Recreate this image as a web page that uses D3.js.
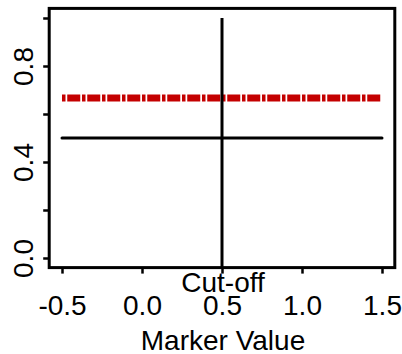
<!DOCTYPE html>
<html>
<head>
<meta charset="utf-8">
<script src="https://cdn.jsdelivr.net/npm/d3@7"></script>
<style>
  html, body { margin: 0; padding: 0; background: #fff; }
  svg { display: block; }
  text { font-family: "Liberation Sans", Arial, Helvetica, sans-serif; fill: #000; }
</style>
</head>
<body>
<svg id="chart" width="402" height="354"></svg>
<script>
// Axis ticks and labels
const xTicks = [-0.5, 0.0, 0.5, 1.0, 1.5];
const xTickLabels = ["-0.5", "0.0", "0.5", "1.0", "1.5"];
const yTicks = [0.0, 0.2, 0.4, 0.6, 0.8, 1.0];
const yTickLabels = ["0.0", "", "0.4", "", "0.8", ""];

// Data ranges
const xRange = [-0.5, 1.5];
const yRange = [0, 1];

// Reference lines
const cutoffValue = 0.5;          // vertical line, labelled "Cut-off"
const cutoffSpan = [-0.04, 1.0];  // vertical extent of the cut-off line
const chanceLevel = 0.5;          // horizontal black line
const seriesLevel = 2 / 3;        // red dash-dot line
const seriesSpan = [-0.5, 1.5];

const xLabel = "Marker Value";
const cutoffLabel = "Cut-off";

// Plot region (R-style 4% axis extension)
const plot = { left: 49.2, right: 394.8, top: 8.4, bottom: 267.6 };
const pad = 0.04;
const xd = xRange[1] - xRange[0], yd = yRange[1] - yRange[0];

const x = d3.scaleLinear()
  .domain([xRange[0] - pad * xd, xRange[1] + pad * xd])
  .range([plot.left, plot.right]);
const y = d3.scaleLinear()
  .domain([yRange[0] - pad * yd, yRange[1] + pad * yd])
  .range([plot.bottom, plot.top]);

const svg = d3.select("#chart");
const FS = 28;

// Red dash-dot series line
svg.append("line")
  .attr("x1", x(seriesSpan[0])).attr("x2", x(seriesSpan[1]))
  .attr("y1", y(seriesLevel)).attr("y2", y(seriesLevel))
  .attr("stroke", "#c40000")
  .attr("stroke-width", 7)
  .attr("stroke-dasharray", "3.5,1.75,13,1.75")
  .attr("stroke-linecap", "butt");

// Horizontal reference line
svg.append("line")
  .attr("x1", x(xRange[0])).attr("x2", x(xRange[1]))
  .attr("y1", y(chanceLevel)).attr("y2", y(chanceLevel))
  .attr("stroke", "#000").attr("stroke-width", 3)
  .attr("stroke-linecap", "round");

// Cut-off line
svg.append("line")
  .attr("x1", x(cutoffValue)).attr("x2", x(cutoffValue))
  .attr("y1", y(cutoffSpan[1])).attr("y2", y(cutoffSpan[0]))
  .attr("stroke", "#000").attr("stroke-width", 3);

// Box
svg.append("rect")
  .attr("x", plot.left).attr("y", plot.top)
  .attr("width", plot.right - plot.left)
  .attr("height", plot.bottom - plot.top)
  .attr("fill", "none").attr("stroke", "#000").attr("stroke-width", 3);

// X axis
const xAxis = svg.append("g")
  .attr("transform", `translate(0,${plot.bottom})`)
  .call(d3.axisBottom(x).tickValues(xTicks).tickSize(6).tickSizeOuter(0)
    .tickFormat((d, i) => xTickLabels[i]));
xAxis.select(".domain").remove();
xAxis.selectAll(".tick line").attr("stroke", "#000").attr("stroke-width", 2.5);
xAxis.selectAll(".tick text")
  .attr("y", 315 - plot.bottom).attr("dy", 0)
  .style("font-size", FS + "px")
  .attr("font-family", null);

// Y axis
const yAxis = svg.append("g")
  .attr("transform", `translate(${plot.left},0)`)
  .call(d3.axisLeft(y).tickValues(yTicks).tickSize(6).tickSizeOuter(0)
    .tickFormat((d, i) => yTickLabels[i]));
yAxis.select(".domain").remove();
yAxis.selectAll(".tick line").attr("stroke", "#000").attr("stroke-width", 2.5);
yAxis.selectAll(".tick text")
  .attr("x", null).attr("dy", 0)
  .attr("text-anchor", "middle")
  .attr("transform", `translate(${33 - plot.left},0) rotate(-90)`)
  .style("font-size", FS + "px");

// Cut-off label
svg.append("text")
  .attr("x", x(cutoffValue) + 1).attr("y", 291.5)
  .attr("text-anchor", "middle")
  .style("font-size", FS + "px")
  .text(cutoffLabel);

// X axis title
svg.append("text")
  .attr("x", x(cutoffValue) + 1).attr("y", 350)
  .attr("text-anchor", "middle")
  .style("font-size", FS + "px")
  .text(xLabel);
</script>
</body>
</html>
